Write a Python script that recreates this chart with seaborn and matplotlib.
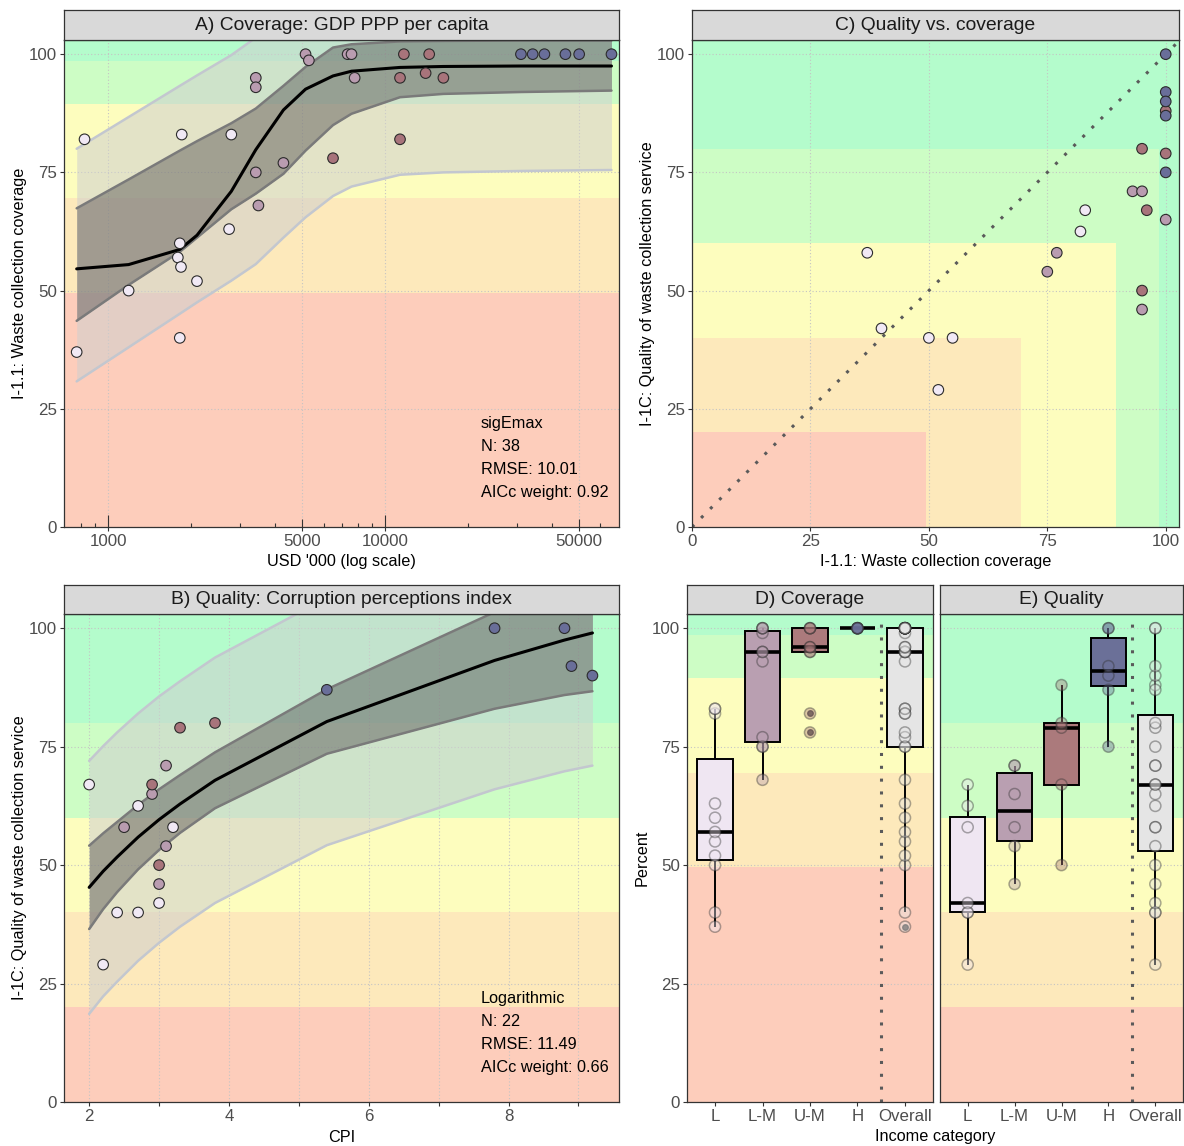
import numpy as np
import pandas as pd
import matplotlib
matplotlib.use("Agg")
import matplotlib.pyplot as plt
from matplotlib.patches import Rectangle
import seaborn as sns

sns.set_theme(style="white")
plt.rcParams["font.family"] = ["Liberation Sans", "DejaVu Sans"]

# ---------------- data ----------------
income_levels = ["L", "L-M", "U-M", "H"]
box_levels = ["L", "L-M", "U-M", "H", "Overall"]
income_colors = ["#f1e9f5", "#b99cb0", "#a8747b", "#696e99"]
box_fill_colors = ["#efe6f2", "#b99fb1", "#ab7a7c", "#6b7098", "#e5e5e5"]

band_colors = ["#fdcdbb", "#fde9bb", "#fdfdbe", "#cdfdc5", "#b4fccc"]
cov_breaks = [0, 49.5, 69.5, 89.5, 98.5]
qual_breaks = [0, 20, 40, 60, 80]

# Panel A: coverage vs GDP
a_gdp = [770, 822, 1186, 1815, 1845, 1815, 1786, 1833, 2094, 2786, 2735,
         3415, 3415, 3415, 3490, 4297, 5165, 5310, 7330, 7570, 7770,
         6490, 11330, 11330, 11700, 14020, 14440, 16250,
         30970, 34150, 37650, 44830, 50260, 65760]
a_cov = [37, 82, 50, 40, 83, 60, 57, 55, 52, 83, 63,
         95, 93, 75, 68, 77, 100, 98.7, 100, 100, 95,
         78, 82, 95, 100, 96, 100, 95,
         100, 100, 100, 100, 100, 100]
a_inc = ["L"] * 11 + ["L-M"] * 10 + ["U-M"] * 7 + ["H"] * 6

fitA_x = [770, 1186, 1815, 2094, 2786, 3415, 4297, 5165, 6490, 7570, 11330, 16250, 30970, 65760]
fitA_mean = [54.6, 55.5, 58.7, 61.7, 71.0, 79.8, 88.2, 92.6, 95.4, 96.4, 97.2, 97.4, 97.5, 97.5]
fitA_conf_lo = [43.6, 51.2, 58.2, 61.2, 67.2, 70.5, 74.7, 79.6, 85.0, 87.4, 90.9, 91.6, 92.0, 92.3]
fitA_conf_hi = [67.4, 73.5, 79.6, 81.6, 85.4, 88.5, 93.3, 97.3, 101.4, 102.1, 102.7, 102.8, 102.9, 102.9]
fitA_pred_lo = [30.8, 38.0, 45.1, 47.5, 52.1, 55.6, 61.2, 65.5, 70.0, 72.0, 74.5, 75.0, 75.3, 75.5]
fitA_pred_hi = [80.0, 86.7, 93.3, 95.5, 99.8, 103.5, 108.0, 112.0, 116.0, 117.0, 119.0, 119.5, 120.0, 120.0]
statsA = ["sigEmax", "N: 38", "RMSE: 10.01", "AICc weight: 0.92"]

# Panel B: quality vs CPI
b_cpi = [2.0, 2.7, 3.2, 3.0, 2.4, 2.7, 2.2,
         3.1, 2.9, 2.5, 3.1, 3.0,
         3.3, 3.8, 2.9, 3.0,
         5.4, 7.8, 8.8, 8.9, 9.2]
b_qual = [67, 62.5, 58, 42, 40, 40, 29,
          71, 65, 58, 54, 46,
          79, 80, 67, 50,
          87, 100, 100, 92, 90]
b_inc = ["L"] * 7 + ["L-M"] * 5 + ["U-M"] * 4 + ["H"] * 5

fitB_x = [2.0, 2.2, 2.4, 2.7, 3.0, 3.3, 3.8, 5.4, 7.8, 8.8, 9.2]
fitB_mean = [45.3, 48.7, 51.7, 55.9, 59.6, 62.9, 67.9, 80.3, 93.2, 97.5, 99.0]
fitB_conf_lo = [36.5, 40.7, 44.3, 49.1, 53.2, 56.8, 62.0, 73.5, 83.0, 85.9, 86.7]
fitB_conf_hi = [54.1, 56.7, 59.1, 62.7, 66.0, 69.0, 73.8, 87.1, 103.4, 109.1, 111.3]
fitB_pred_lo = [18.6, 22.3, 25.4, 29.8, 33.6, 37.0, 42.0, 54.2, 66.0, 69.8, 71.0]
fitB_pred_hi = [72.0, 75.1, 78.0, 82.0, 85.6, 88.8, 93.8, 106.4, 120.4, 125.2, 127.0]
statsB = ["Logarithmic", "N: 22", "RMSE: 11.49", "AICc weight: 0.66"]

# Panel C: quality vs coverage
c_cov = [37, 40, 50, 55, 52, 82, 83,
         75, 77, 93, 95, 100, 95,
         95, 100, 96, 95, 100,
         100, 100, 100, 100, 100]
c_qual = [58, 42, 40, 40, 29, 62.5, 67,
          54, 58, 71, 71, 65, 46,
          80, 79, 67, 50, 88,
          100, 92, 90, 87, 75]
c_inc = ["L"] * 7 + ["L-M"] * 6 + ["U-M"] * 5 + ["H"] * 5

# Panels D/E: boxplots by income category
cov_L = [37, 40, 50, 52, 55, 57, 60, 63, 82, 83, 83]
cov_LM = [68, 75, 75, 77, 93, 95, 95, 99, 100, 100, 100]
cov_UM = [78, 82, 95, 95, 96, 96, 100, 100, 100]
cov_H = [100, 100, 100, 100, 100, 100]
qual_L = [29, 40, 40, 42, 58, 62.5, 67]
qual_LM = [46, 54, 58, 65, 71, 71]
qual_UM = [50, 67, 79, 80, 88]
qual_H = [75, 87, 90, 92, 100, 100]

gdp_breaks = [1000, 5000, 10000, 50000]
gdp_labels = ["1000", "5000", "10000", "50000"]
gdp_short_ticks = [800, 900, 2000, 3000, 4000, 6000, 7000, 8000, 9000,
                   20000, 30000, 40000, 60000]
pct_ticks = [0, 25, 50, 75, 100]

# ---------------- figure ----------------
W, H = 1184, 1146
fig = plt.figure(figsize=(W / 100, H / 100), dpi=100)


def frac(l, t, r, b):
    return [l / W, 1 - b / H, (r - l) / W, (b - t) / H]


FS_TICK = 12.2
FS_TITLE = 11.7
FS_STRIP = 13.9
TICK_COL = "#4d4d4d"
EDGE = "#333333"
GRID = dict(color="#c4c4c4", linestyle=(0, (1, 2)), linewidth=0.8)
YTOP = 103
YLPAD = 1.5


def base_style(ax):
    ax.set_facecolor("white")
    for s in ax.spines.values():
        s.set_color(EDGE)
        s.set_linewidth(0.9)
        s.set_visible(True)
    ax.tick_params(axis="both", which="both", direction="out", length=3, width=0.8,
                   color=EDGE, labelcolor=TICK_COL, labelsize=FS_TICK, pad=2,
                   bottom=True, left=True)
    ax.set_axisbelow(True)


def strip(l, t, r, b, text):
    sax = fig.add_axes(frac(l, t, r, b))
    sax.set_facecolor("#d9d9d9")
    sax.set_xticks([])
    sax.set_yticks([])
    for s in sax.spines.values():
        s.set_color(EDGE)
        s.set_linewidth(0.9)
    sax.text(0.5, 0.5, text, ha="center", va="center", fontsize=FS_STRIP,
             color="#1a1a1a", transform=sax.transAxes)


def hbands(ax, breaks):
    edges = list(breaks) + [YTOP]
    for i, c in enumerate(band_colors):
        ax.axhspan(edges[i], edges[i + 1], color=c, lw=0, zorder=0.1)


def fit_bands(ax, x, mean, clo, chi, plo, phi):
    ax.fill_between(x, plo, phi, color="#cfcfcf", alpha=0.55, lw=0, zorder=1)
    ax.plot(x, plo, color="#c3c7cf", lw=1.8, zorder=1.1)
    ax.plot(x, phi, color="#c3c7cf", lw=1.8, zorder=1.1)
    ax.fill_between(x, clo, chi, color="#525050", alpha=0.45, lw=0, zorder=1.2)
    ax.plot(x, clo, color="#7a7a7a", lw=1.8, zorder=1.3)
    ax.plot(x, chi, color="#7a7a7a", lw=1.8, zorder=1.3)
    sns.lineplot(x=x, y=mean, color="black", lw=2.2, ax=ax, zorder=2, sort=False)


def stats_text(ax, lines):
    for k, txt in enumerate(lines):
        ax.text(0.751, 0.2115 - k * 0.0472, txt, transform=ax.transAxes,
                ha="left", va="center", fontsize=FS_TITLE, color="black", zorder=6)


# ---------- Panel A ----------
axA = fig.add_axes(frac(64, 40, 619, 527))
base_style(axA)
axA.set_xscale("log")
hbands(axA, cov_breaks)
fit_bands(axA, fitA_x, fitA_mean, fitA_conf_lo, fitA_conf_hi, fitA_pred_lo, fitA_pred_hi)
dfA = pd.DataFrame({"gdp": a_gdp, "cov": a_cov, "inc": a_inc})
sns.scatterplot(data=dfA, x="gdp", y="cov", hue="inc", hue_order=income_levels,
                palette=income_colors, s=58, edgecolor="#2b2b2b", linewidth=0.8,
                legend=False, ax=axA, zorder=4)
axA.set_xlim(693, 70000)
axA.set_ylim(0, YTOP)
axA.set_xticks(gdp_breaks, labels=gdp_labels)
axA.xaxis.set_minor_locator(matplotlib.ticker.NullLocator())
axA.set_yticks(pct_ticks)
axA.grid(True, which="major", **GRID)
axA.set_xlabel("USD '000 (log scale)", fontsize=FS_TITLE, color="black", labelpad=4)
axA.set_ylabel("I-1.1: Waste collection coverage", fontsize=FS_TITLE, color="black", labelpad=YLPAD)
stats_text(axA, statsA)

# log ticks inside panel (annotation_logticks style)
for major, minor, lmaj, lmin in [([1000, 10000], [5000, 50000], 8.5, 5.7),
                                  ([], gdp_short_ticks, 0, 2.8)]:
    tw = axA.twiny()
    tw.set_xscale("log")
    tw.set_xlim(axA.get_xlim())
    tw.xaxis.set_ticks_position("bottom")
    tw.set_xticks(major)
    tw.set_xticks(minor, minor=True)
    tw.tick_params(which="major", direction="in", length=lmaj, width=0.8, color=EDGE,
                   labelbottom=False, labeltop=False, top=False, bottom=True)
    tw.tick_params(which="minor", direction="in", length=lmin, width=0.8, color=EDGE,
                   labelbottom=False, labeltop=False, top=False, bottom=True)
    for s in tw.spines.values():
        s.set_visible(False)
    tw.grid(False)
strip(64, 10, 619, 40, "A) Coverage: GDP PPP per capita")

# ---------- Panel B ----------
axB = fig.add_axes(frac(64, 614, 619, 1102))
base_style(axB)
hbands(axB, qual_breaks)
fit_bands(axB, fitB_x, fitB_mean, fitB_conf_lo, fitB_conf_hi, fitB_pred_lo, fitB_pred_hi)
dfB = pd.DataFrame({"cpi": b_cpi, "qual": b_qual, "inc": b_inc})
sns.scatterplot(data=dfB, x="cpi", y="qual", hue="inc", hue_order=income_levels,
                palette=income_colors, s=58, edgecolor="#2b2b2b", linewidth=0.8,
                legend=False, ax=axB, zorder=4)
axB.set_xlim(1.64, 9.58)
axB.set_ylim(0, YTOP)
axB.set_xticks([2, 4, 6, 8])
axB.set_xticks([3, 5, 7, 9], minor=True)
axB.set_yticks(pct_ticks)
axB.grid(True, which="both", **GRID)
axB.set_xlabel("CPI", fontsize=FS_TITLE, color="black", labelpad=4)
axB.set_ylabel("I-1C: Quality of waste collection service", fontsize=FS_TITLE, color="black", labelpad=YLPAD)
stats_text(axB, statsB)
strip(64, 585, 619, 614, "B) Quality: Corruption perceptions index")

# ---------- Panel C ----------
axC = fig.add_axes(frac(692, 40, 1179, 527))
base_style(axC)
axC.set_xlim(0, 102.8)
axC.set_ylim(0, YTOP)
axC.add_patch(Rectangle((0, 0), 102.8, YTOP, color=band_colors[-1], lw=0, zorder=0.1))
for i in range(len(band_colors) - 2, -1, -1):
    axC.add_patch(Rectangle((0, 0), cov_breaks[i + 1], qual_breaks[i + 1],
                            color=band_colors[i], lw=0, zorder=0.1))
axC.axline((0, 0), slope=1, color="#5a5a5a", lw=2.2, linestyle=(0, (1, 3.2)), zorder=2)
dfC = pd.DataFrame({"cov": c_cov, "qual": c_qual, "inc": c_inc})
sns.scatterplot(data=dfC, x="cov", y="qual", hue="inc", hue_order=income_levels,
                palette=income_colors, s=58, edgecolor="#2b2b2b", linewidth=0.8,
                legend=False, ax=axC, zorder=4)
axC.set_xticks(pct_ticks)
axC.set_yticks(pct_ticks)
axC.grid(True, which="major", **GRID)
axC.set_xlabel("I-1.1: Waste collection coverage", fontsize=FS_TITLE, color="black", labelpad=4)
axC.set_ylabel("I-1C: Quality of waste collection service", fontsize=FS_TITLE, color="black", labelpad=YLPAD)
strip(692, 10, 1179, 40, "C) Quality vs. coverage")


# ---------- Panels D / E ----------
def long_df(groups):
    rows = []
    for lvl, vals in zip(income_levels, groups):
        rows += [(lvl, v) for v in vals]
    allv = [v for vals in groups for v in vals]
    rows += [("Overall", v) for v in allv]
    return pd.DataFrame(rows, columns=["cat", "value"])


def box_panel(ax, df, breaks):
    base_style(ax)
    hbands(ax, breaks)
    sns.boxplot(data=df, x="cat", y="value", order=box_levels, hue="cat",
                hue_order=box_levels, palette=box_fill_colors, legend=False,
                dodge=False, width=0.75, linecolor="black", linewidth=1.4,
                fliersize=4, showcaps=False,
                flierprops=dict(marker="o", markerfacecolor="#3a3a3a",
                                markeredgecolor="#3a3a3a", alpha=0.8),
                medianprops=dict(linewidth=2.6, color="black"),
                saturation=1, ax=ax, zorder=2)
    sns.stripplot(data=df, x="cat", y="value", order=box_levels, hue="cat",
                  hue_order=box_levels, palette=box_fill_colors, legend=False,
                  dodge=False, jitter=False, size=8, alpha=0.4,
                  edgecolor="#303030", linewidth=1.1, ax=ax, zorder=3)
    ax.axvline(3.5, color="#5a5a5a", lw=2.2, linestyle=(0, (1, 3.2)), zorder=2.5)
    ax.set_xlim(-0.59, 4.59)
    ax.set_ylim(0, YTOP)
    ax.set_yticks(pct_ticks)
    ax.grid(True, axis="y", which="major", **GRID)
    ax.grid(False, axis="x")
    ax.set_xlabel("")


dfD = long_df([cov_L, cov_LM, cov_UM, cov_H])
dfE = long_df([qual_L, qual_LM, qual_UM, qual_H])

axD = fig.add_axes(frac(687, 614, 933, 1102))
box_panel(axD, dfD, cov_breaks)
axD.set_ylabel("Percent", fontsize=FS_TITLE, color="black", labelpad=YLPAD)
strip(687, 585, 933, 614, "D) Coverage")

axE = fig.add_axes(frac(940, 614, 1183, 1102))
box_panel(axE, dfE, qual_breaks)
axE.tick_params(axis="y", left=False, labelleft=False)
axE.set_ylabel("")
strip(940, 585, 1183, 614, "E) Quality")

fig.text(935 / W, 1 - 1137 / H, "Income category", ha="center", va="center",
         fontsize=FS_TITLE, color="black")

fig.savefig("out.png", dpi=100)
